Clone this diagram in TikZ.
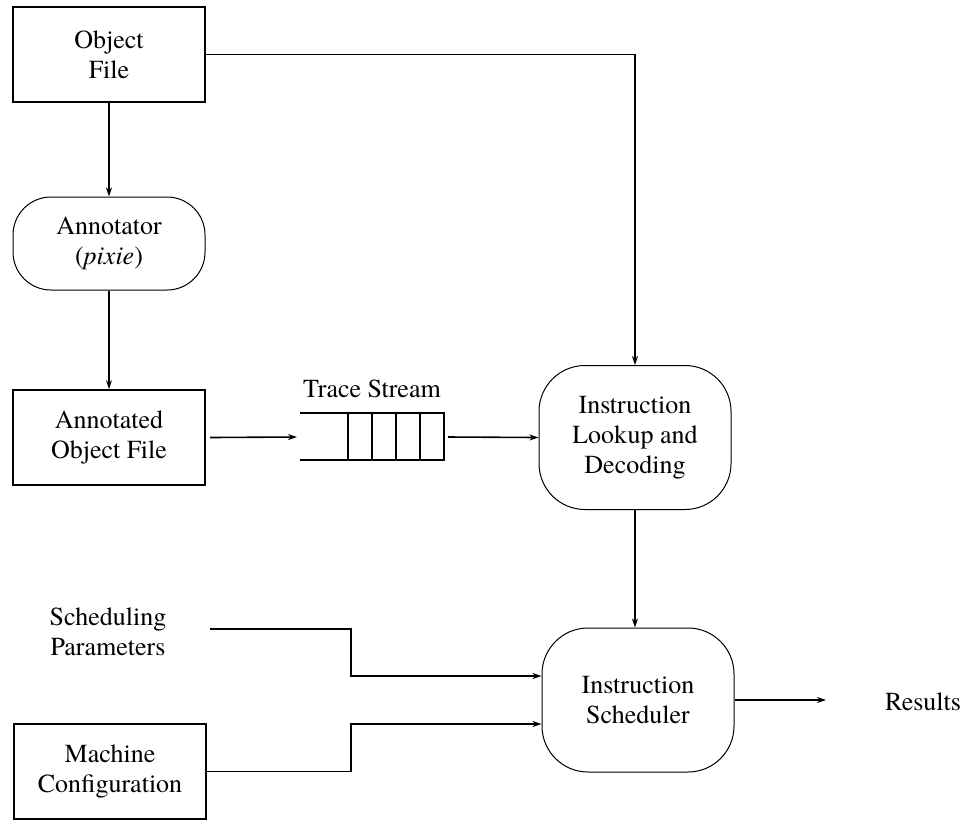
\documentclass[tikz,border=0pt]{standalone}
\usepackage{fontspec}
\setmainfont{TeX Gyre Termes}
\usetikzlibrary{arrows.meta}
\begin{document}
\begin{tikzpicture}[x=1pt,y=-1pt,
 lbl/.style={font=\fontsize{26}{30}\selectfont, align=center, inner sep=0pt},
 filebox/.style={lbl, draw, line width=1.8pt, minimum width=192pt, minimum height=95pt},
 procbox/.style={lbl, draw, line width=1pt, rounded corners=46pt, minimum width=192pt, minimum height=144pt},
 conn/.style={line width=1.6pt, -{Stealth[length=9pt,width=6pt]}},
 plainline/.style={line width=1.6pt}]
\useasboundingbox (0,0) rectangle (965,820);

\node[filebox] (objfile) at (109,54.5) {Object\\File};
\node[lbl, draw, line width=1pt, rounded corners=38pt, minimum width=192pt, minimum height=93pt] (annot) at (109,243.5) {Annotator\\(\textit{pixie})};
\node[filebox] (annotated) at (109,437.5) {Annotated\\Object File};
\node[filebox] (machine) at (110,771.5) {Machine\\Configuration};
\node[procbox] (lookup) at (635,437.5) {Instruction\\Lookup and\\Decoding};
\node[procbox] (sched) at (638,700) {Instruction\\Scheduler};
\node[lbl] (sp) at (108,632) {Scheduling\\Parameters};
\node[lbl] (results) at (923,702) {Results};

% queue
\node[minimum width=144pt, minimum height=47pt, inner sep=0pt] (queue) at (372,436.5) {};
\node[lbl, anchor=base] (qlabel) at (372,397) {Trace Stream};
\draw[plainline] (queue.north west) -- (queue.north east) -- (queue.south east) -- (queue.south west);
\foreach \xx in {348,372,396,420}
  \draw[plainline] (\xx,413) -- (\xx,460);

\coordinate (qin) at (297,437);
\coordinate (qout) at (448,437);
\coordinate (spout) at (210,629);
\coordinate (resin) at (826,700);

\draw[conn] (objfile.south) -- (annot.north);
\draw[conn] (annot.south) -- (annotated.north);
\draw[conn] (annotated.east -| 210,0) -- (qin);
\draw[conn] (qout) -- (lookup.west);
\draw[conn] (objfile.east) -| (lookup.north);
\draw[conn] (lookup.south) -- (sched.north -| lookup.south);
\draw[conn] (sched.east) -- (resin);
\draw[conn] (spout) -| (351,676) -- ([yshift=24pt]sched.west);
\draw[conn] (machine.east) -| (351,724) -- ([yshift=-24pt]sched.west);
\end{tikzpicture}
\end{document}
